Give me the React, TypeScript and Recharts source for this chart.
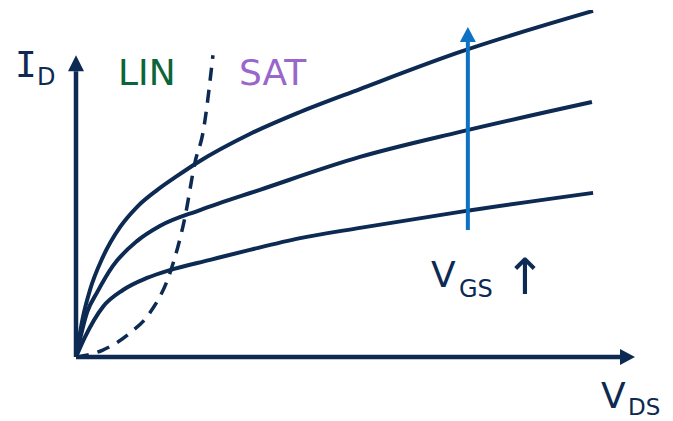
import React from "react"
import { LineChart, Line, XAxis, YAxis, ReferenceLine } from "recharts"

// output characteristics, three gate voltages (low -> high)
const lowX = [0, 0.16, 0.48, 0.84, 1.27, 1.68, 2.4, 3.11, 4.01, 5.08, 6.87, 9.25]
const lowY = [0, 0.66, 1.66, 2.22, 2.62, 2.88, 3.22, 3.55, 3.94, 4.28, 4.81, 5.44]

const midX = [0, 0.2, 0.38, 0.66, 1.09, 1.5, 2.22, 3.29, 5.08, 6.87, 9.23]
const midY = [0, 1.49, 2.15, 3.02, 3.84, 4.34, 4.87, 5.54, 6.63, 7.46, 8.45]

const highX = [0, 0.125, 0.25, 0.48, 0.79, 1.09, 1.45, 1.81, 2.16, 3.11, 4.01, 5.08, 6.87, 9.25]
const highY = [0, 1.33, 2.22, 3.31, 4.31, 4.97, 5.53, 6.0, 6.43, 7.39, 8.12, 8.88, 10.11, 11.47]

// LIN / SAT boundary
const edgeX = [0, 0.48, 0.97, 1.32, 1.68, 1.95, 2.13, 2.27, 2.45]
const edgeY = [0, 0.23, 0.8, 1.46, 2.78, 4.64, 6.46, 7.42, 10.0]

const toRows = (xs: number[], ys: number[]) => xs.map((x, i) => ({ x, y: ys[i] }))

const NAVY = "#0c2a52"
const BLUE = "#0e72c4"
const FONT = "'DejaVu Sans', Verdana, sans-serif"

const arrow = (color: string, w: number, len: number, half: number) => (p: any) => {
  const { x1, y1, x2, y2 } = p
  const dx = x2 - x1
  const dy = y2 - y1
  const d = Math.sqrt(dx * dx + dy * dy) || 1
  const ux = dx / d
  const uy = dy / d
  const bx = x2 - ux * len
  const by = y2 - uy * len
  const pts = `${x2},${y2} ${bx - uy * half},${by + ux * half} ${bx + uy * half},${by - ux * half}`
  return (
    <g>
      <line x1={x1} y1={y1} x2={bx} y2={by} stroke={color} strokeWidth={w} />
      <polygon points={pts} fill={color} />
    </g>
  )
}

export default function App() {
  return (
    <div style={{ position: "absolute", left: 0, top: 0, width: 673, height: 421, background: "#fff" }}>
      <LineChart width={673} height={421} margin={{ top: 10, right: 38, bottom: 64, left: 76 }}>
        <XAxis type="number" dataKey="x" domain={[0, 10]} hide allowDataOverflow />
        <YAxis type="number" domain={[0, 11.5]} hide allowDataOverflow />
        <ReferenceLine segment={[{ x: 0, y: 0 }, { x: 10, y: 0 }]} ifOverflow="visible" shape={arrow(NAVY, 4.5, 15, 8)} />
        <ReferenceLine segment={[{ x: 0, y: 0 }, { x: 0, y: 10 }]} ifOverflow="visible" shape={arrow(NAVY, 4.5, 16, 8)} />
        <Line data={toRows(edgeX, edgeY)} dataKey="y" type="monotone" stroke={NAVY} strokeWidth={3.5}
          strokeDasharray="13 9" dot={false} isAnimationActive={false} />
        <Line data={toRows(lowX, lowY)} dataKey="y" type="monotone" stroke={NAVY} strokeWidth={4}
          dot={false} isAnimationActive={false} />
        <Line data={toRows(midX, midY)} dataKey="y" type="monotone" stroke={NAVY} strokeWidth={4}
          dot={false} isAnimationActive={false} />
        <Line data={toRows(highX, highY)} dataKey="y" type="monotone" stroke={NAVY} strokeWidth={4}
          dot={false} isAnimationActive={false} />
        <ReferenceLine segment={[{ x: 7.01, y: 4.21 }, { x: 7.01, y: 10.94 }]} ifOverflow="visible" shape={arrow(BLUE, 4, 15, 8)} />
      </LineChart>
      <svg width={673} height={421} style={{ position: "absolute", left: 0, top: 0, pointerEvents: "none" }}>
        <g fontFamily={FONT} fill={NAVY}>
          <text x={15} y={77} fontSize={36} fontFamily="'DejaVu Sans Mono', monospace">I</text>
          <text x={37} y={85} fontSize={24}>D</text>
          <text x={118} y={85} fontSize={36} fill="#0a6638">LIN</text>
          <text x={239} y={85} fontSize={36} fill="#9966cc">SAT</text>
          <text x={431} y={287} fontSize={36}>V</text>
          <text x={459} y={297} fontSize={24}>GS</text>
          <text x={525} y={294} fontSize={50} textAnchor="middle">↑</text>
          <text x={601} y={408} fontSize={36}>V</text>
          <text x={628} y={415} fontSize={23}>DS</text>
        </g>
      </svg>
    </div>
  )
}
